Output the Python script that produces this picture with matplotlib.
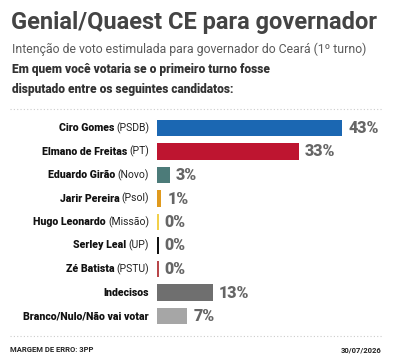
import matplotlib.pyplot as plt
import numpy as np

# Data
names = ["Ciro Gomes", "Elmano de Freitas", "Eduardo Girão", "Jarir Pereira",
         "Hugo Leonardo", "Serley Leal", "Zé Batista", "Indecisos",
         "Branco/Nulo/Não vai votar"]
parties = ["(PSDB)", "(PT)", "(Novo)", "(Psol)", "(Missão)", "(UP)", "(PSTU)", "", ""]
values = [43, 33, 3, 1, 0, 0, 0, 13, 7]
colors = ["#1b67b2", "#be1530", "#4c7b79", "#e09a1e", "#f2d04a",
          "#111111", "#b8474a", "#6f6f6f", "#a6a6a6"]

W, H = 402, 363
fig = plt.figure(figsize=(W / 100, H / 100), dpi=100)
plt.rcParams['font.family'] = ['Roboto', 'DejaVu Sans']

def fx(px):
    return px / W

def fy(py):
    return 1 - py / H

# Header
fig.text(fx(11), fy(22), "Genial/Quaest CE para governador", fontsize=17,
         fontweight='bold', color='#444444', va='center', ha='left')
fig.text(fx(12), fy(49), "Intenção de voto estimulada para governador do Ceará (1º turno)",
         fontsize=8.8, color='#5a5a5a', va='center', ha='left')
fig.text(fx(12), fy(70), "Em quem você votaria se o primeiro turno fosse",
         fontsize=8.6, fontweight='heavy', color='#333333', va='center', ha='left')
fig.text(fx(12), fy(89), "disputado entre os seguintes candidatos:",
         fontsize=8.6, fontweight='heavy', color='#333333', va='center', ha='left')

# Dotted separators
for py in (109, 336):
    fig.add_artist(plt.Line2D([fx(10), fx(382)], [fy(py), fy(py)], color='#cccccc',
                              linestyle=(0, (1, 2)), linewidth=0.8))

# Bars axes: 4.3 px per percentage point, rows 23.5 px apart
row_h = 23.5
top = 128 - row_h / 2
n = len(values)
ax_w = 50 * 4.3
ax = fig.add_axes([fx(157), fy(top + n * row_h), ax_w / W, n * row_h / H])
y = np.arange(n)
widths = [v if v > 0 else 0.35 for v in values]
ax.barh(y, widths, height=0.72, color=colors)
ax.set_xlim(0, 50)
ax.set_ylim(n - 0.5, -0.5)
ax.axis('off')

for i, v in enumerate(values):
    ax.annotate(f"{v}%", (widths[i], i), xytext=(4.5, 0), textcoords='offset points',
                va='center', ha='left', fontsize=11.5, fontweight='heavy', color='#666666')

# Category labels: bold name + regular party
fig.canvas.draw()
renderer = fig.canvas.get_renderer()
for i in range(n):
    py = 128 + i * row_h
    x_right = fx(149)
    if parties[i]:
        t = fig.text(x_right, fy(py), parties[i], fontsize=7.5, color='#222222',
                     ha='right', va='center')
        bb = t.get_window_extent(renderer)
        x_right = (bb.x0 - 2) / fig.bbox.width
    fig.text(x_right, fy(py), names[i], fontsize=7.6, fontweight='black',
             color='#111111', ha='right', va='center')

# Footer
fig.text(fx(10), fy(350), "MARGEM DE ERRO: 3PP", fontsize=5.5, fontweight='bold',
         color='#222222', va='center', ha='left')
fig.text(fx(382), fy(350), "30/07/2026", fontsize=5.5, fontweight='bold',
         color='#222222', va='center', ha='right')

fig.savefig("out.png", dpi=100)
